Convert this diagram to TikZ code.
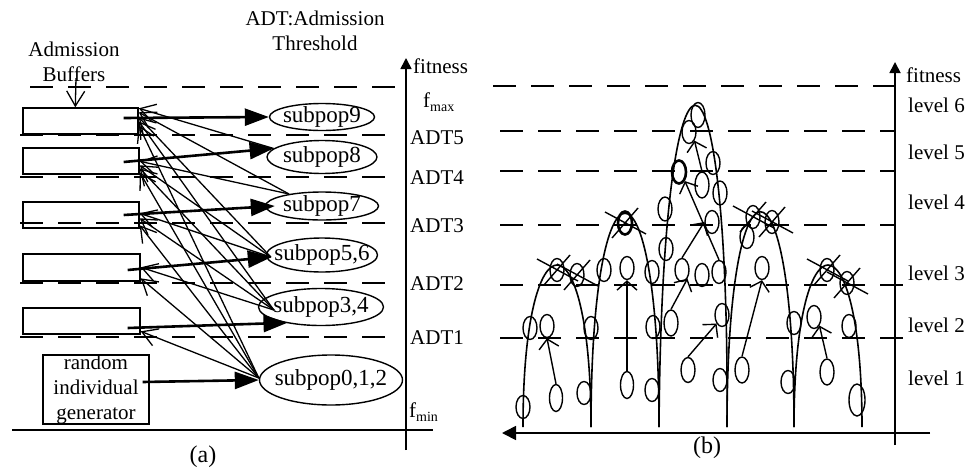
\documentclass[tikz,border=0pt]{standalone}
\usepackage{fontspec}
\setmainfont{Liberation Serif}
\usetikzlibrary{shapes.geometric,arrows.meta,calc}
% strike an individual out with a skewed cross
\newcommand\strikecell[1]{%
  \draw[xline] ($(#1)+(-20,-11)$) -- ($(#1)+(21,11)$)
               ($(#1)+(-13,15)$) -- ($(#1)+(13,-15)$);}
\begin{document}
\begin{tikzpicture}[x=1pt,y=-1pt,
  lbl/.style={font=\fontsize{21}{25}\selectfont, inner sep=0pt},
  panel/.style={font=\fontsize{24}{28}\selectfont, inner sep=0pt},
  buf/.style={draw, line width=1.4pt, inner sep=0pt, minimum width=116pt, minimum height=26pt},
  sub/.style={draw, ellipse, line width=1.4pt, inner xsep=-10pt, inner ysep=-4pt,
              font=\fontsize{23}{27}\selectfont},
  cell/.style={draw, ellipse, line width=1.4pt, inner sep=0pt, minimum width=14pt, minimum height=23pt},
  boldcell/.style={cell, line width=2.6pt},
  level line/.style={line width=1.7pt, dash pattern=on 23pt off 15pt},
  move/.style={line width=2.6pt, -{Triangle[length=24pt,width=17pt]}},
  send/.style={line width=1.3pt, -{Straight Barb[length=15pt,width=18pt]}},
  climb/.style={line width=1.4pt, -{Straight Barb[length=9pt,width=20pt]}},
  axisline/.style={line width=1.7pt},
  arch/.style={line width=1.6pt},
  xline/.style={line width=1.4pt},
]
\useasboundingbox (0,0) rectangle (968,471);

% ================= (a) admission buffers and subpopulations =================
\node[lbl, align=center] (adt) at (315,30.6) {ADT:Admission\\Threshold};
\node[lbl, align=center] (bufl) at (74,62) {Admission\\Buffers};

% threshold levels
\coordinate (aTopL) at (30,87);  \coordinate (aTopR) at (405,87);
\draw[level line] (aTopL) -- (aTopR);
\foreach \y in {135,177,223,283,337}
  \draw[level line] (20,\y) -- (400,\y);

% fitness axis and base line
\coordinate (aAxBot) at (406,450); \coordinate (aAxTop) at (406,58);
\draw[axisline, -{Triangle[length=11pt,width=11pt]}] (aAxBot) -- (aAxTop);
\coordinate (aBaseL) at (12,430); \coordinate (aBaseR) at (433,430);
\draw[axisline] (aBaseL) -- (aBaseR);

\node[lbl, anchor=west] (fitA) at (413,66) {fitness};
\node[lbl, anchor=west] (fmax) at (423,102) {f\raisebox{-4pt}{\fontsize{14}{14}\selectfont max}};
\node[lbl, anchor=west] (fmin) at (409,412) {f\raisebox{-4pt}{\fontsize{14}{14}\selectfont min}};
\node[lbl, anchor=west] (adt5) at (410,138) {ADT5};
\node[lbl, anchor=west] (adt4) at (410,177.5) {ADT4};
\node[lbl, anchor=west] (adt3) at (410,226) {ADT3};
\node[lbl, anchor=west] (adt2) at (410,283.5) {ADT2};
\node[lbl, anchor=west] (adt1) at (410,338) {ADT1};

% buffers
\node[buf, minimum width=115pt] (b1) at (80.5,121) {};
\node[buf] (b2) at (81,161) {};
\node[buf] (b3) at (81,215) {};
\node[buf, minimum width=117pt, minimum height=27pt] (b4) at (81.5,267.5) {};
\node[buf, minimum width=117pt] (b5) at (81.5,321) {};
\node[buf, lbl, draw, minimum width=106pt, minimum height=69pt, align=center] (gen)
  at (96,389.5) {random\\individual\\generator};

\draw[send] ($(bufl.south)+(2,-4)$) -- ($(b1.north west)+(53,0)$);

% subpopulations
\node[sub, minimum width=105pt, minimum height=27pt] (s9)   at (322,117) {subpop9};
\node[sub, minimum width=110pt, minimum height=33pt] (s8)   at (322,157) {subpop8};
\node[sub, minimum width=113pt, minimum height=28pt] (s7)   at (322,206) {subpop7};
\node[sub, minimum width=111pt, minimum height=34pt] (s56)  at (322,255) {subpop5,6};
\node[sub, minimum width=125pt, minimum height=37pt] (s34)  at (321,307) {subpop3,4};
\node[sub, minimum width=143pt, minimum height=50pt] (s012) at (331,380) {subpop0,1,2};

% buffers feed their subpopulations
\draw[move] ($(b1.east)+(-15,-3)$) -- (s9.west);
\draw[move] ($(b2.east)+(-16,1)$) -- (s8.170);
\draw[move] ($(b3.east)+(-16,0)$) -- ($(s7.west)+(10,0)$);
\draw[move] ($(b4.east)+(-13,2.5)$) -- ($(s56.west)+(6,2)$);
\draw[move] ($(b5.east)+(-13,7)$) -- ($(s34.200)+(7,1)$);
\draw[move] ($(gen.east)+(-7,-7.5)$) -- (s012.west);

% individuals sent up to the buffers of higher levels
\coordinate (o8)   at (s8.170);
\coordinate (o7)   at (s7.160);
\coordinate (o56)  at ($(s56.west)+(5,2)$);
\coordinate (o34)  at ($(s34.west)+(16,3)$);
\coordinate (o012) at ($(s012.west)+(0,-2)$);
\foreach \src/\dst/\dy in {o8/b1/1, o7/b1/5, o56/b1/10, o34/b1/14, o012/b1/18,
                          o7/b2/14, o56/b2/18, o34/b2/21, o012/b2/25,
                          o56/b3/12, o34/b3/17, o012/b3/24,
                          o34/b4/14, o012/b4/25,
                          o012/b5/24}
  \draw[send] (\src) -- ($(\dst.north east)+(0,\dy)$);

\node[panel] (capa) at (203,457) {(a)};

% ================= (b) fitness landscape =================
\coordinate (bTopL) at (493,86); \coordinate (bTopR) at (895,86);
\draw[level line] (bTopL) -- (bTopR);
\foreach \y in {131,171,225}
  \draw[level line] (500,\y) -- (895,\y);
\foreach \y in {285,338}
  \draw[level line] (500,\y) -- (917,\y);

\coordinate (bAxBot) at (895,445); \coordinate (bAxTop) at (895,62);
\draw[axisline, -{Triangle[length=11pt,width=11pt]}] (bAxBot) -- (bAxTop);
\coordinate (bBaseR) at (930,433); \coordinate (bBaseL) at (502,433);
\draw[axisline, -{Triangle[length=14pt,width=14pt]}] (bBaseR) -- (bBaseL);

\node[lbl, anchor=west] (fitB) at (906,75) {fitness};
\node[lbl, anchor=west] (lv6) at (908,105) {level 6};
\node[lbl, anchor=west] (lv5) at (908,152) {level 5};
\node[lbl, anchor=west] (lv4) at (908,202) {level 4};
\node[lbl, anchor=west] (lv3) at (908,273) {level 3};
\node[lbl, anchor=west] (lv2) at (908,325) {level 2};
\node[lbl, anchor=west] (lv1) at (908,378) {level 1};

% peaks
\draw[arch] (523,427) .. controls (523,211) and (591,211) .. (591,427);
\draw[arch] (591,427) .. controls (591,142) and (659,142) .. (659,427);
\draw[arch] (659,427) .. controls (662,-2) and (730,-2) .. (727,427);
\draw[arch] (727,427) .. controls (727,140) and (794,140) .. (794,427);
\draw[arch] (794,427) .. controls (794,211) and (862,211) .. (862,427);

% individuals
\foreach \n/\x/\y/\w/\h in {
  p1a/523/407/14/23, p1b/556/398/13/27, p1c/584/393/14/23, p1d/627/385/13/27,
  p1e/652/390/14/23, p1f/688/370/14/25, p1g/720/380/14/23, p1h/742/370/14/26,
  p1i/788/382/14/23, p1j/827/372/14/26, p1k/857/400/16/32,
  p2a/530/328/14/23, p2b/547/326/14/23, p2c/591/328/14/23, p2d/653/327/14/23,
  p2e/671/323/14/26, p2f/722/315/14/23, p2g/794/323/14/23, p2h/814/317/14/23,
  p2i/849/326/14/23,
  p3a/557/270/14/23, p3b/577/275/14/23, p3c/604/270/14/23, p3d/627/268/14/23,
  p3e/652/272/14/23, p3f/682/270/14/23, p3g/702/275/14/23, p3h/719/272/14/23,
  p3i/762/268/14/23, p3j/827/270/14/23, p3k/847/283/14/23, p3l/666/249/14/23,
  p3m/747/237/14/23,
  p4b/665/209/14/24, p4c/712/222/14/23, p4d/753/217/14/23, p4e/772/222/14/23,
  p5b/713/163/14/23, p5c/702/185/14/26, p5d/720/193/14/24,
  p6a/689/132/14/23, p6b/698/115/14/25}
  \node[cell, minimum width=\w pt, minimum height=\h pt] (\n) at (\x,\y) {};
\node[boldcell] (p4a) at (625,223) {};
\node[boldcell] (p5a) at (679,172) {};

% individuals removed
\strikecell{p3a}
\strikecell{p3b}
\strikecell{p3j}
\strikecell{p3k}
\strikecell{p4a}
\strikecell{p4d}
\strikecell{p4e}

% individuals climbing to a higher level
\draw[climb] (p1b.north) -- (p2b.south);
\draw[climb] (p1d.north) -- (p3d.south);
\draw[climb] (p2e.north) -- (p3f.south east);
\draw[climb] (p3f.north) -- (p4c.west);
\draw[climb] (p1f.north) -- (p2f.south west);
\draw[climb] (p1h.north) -- (p3i.south);
\draw[climb] (p1j.north) -- (p2h.south east);
\draw[climb] (p3h.north) -- (p5a.south east);
\draw[climb] (p5c.north) -- (p6a.south east);

\node[panel] (capb) at (707,448) {(b)};
\end{tikzpicture}
\end{document}
